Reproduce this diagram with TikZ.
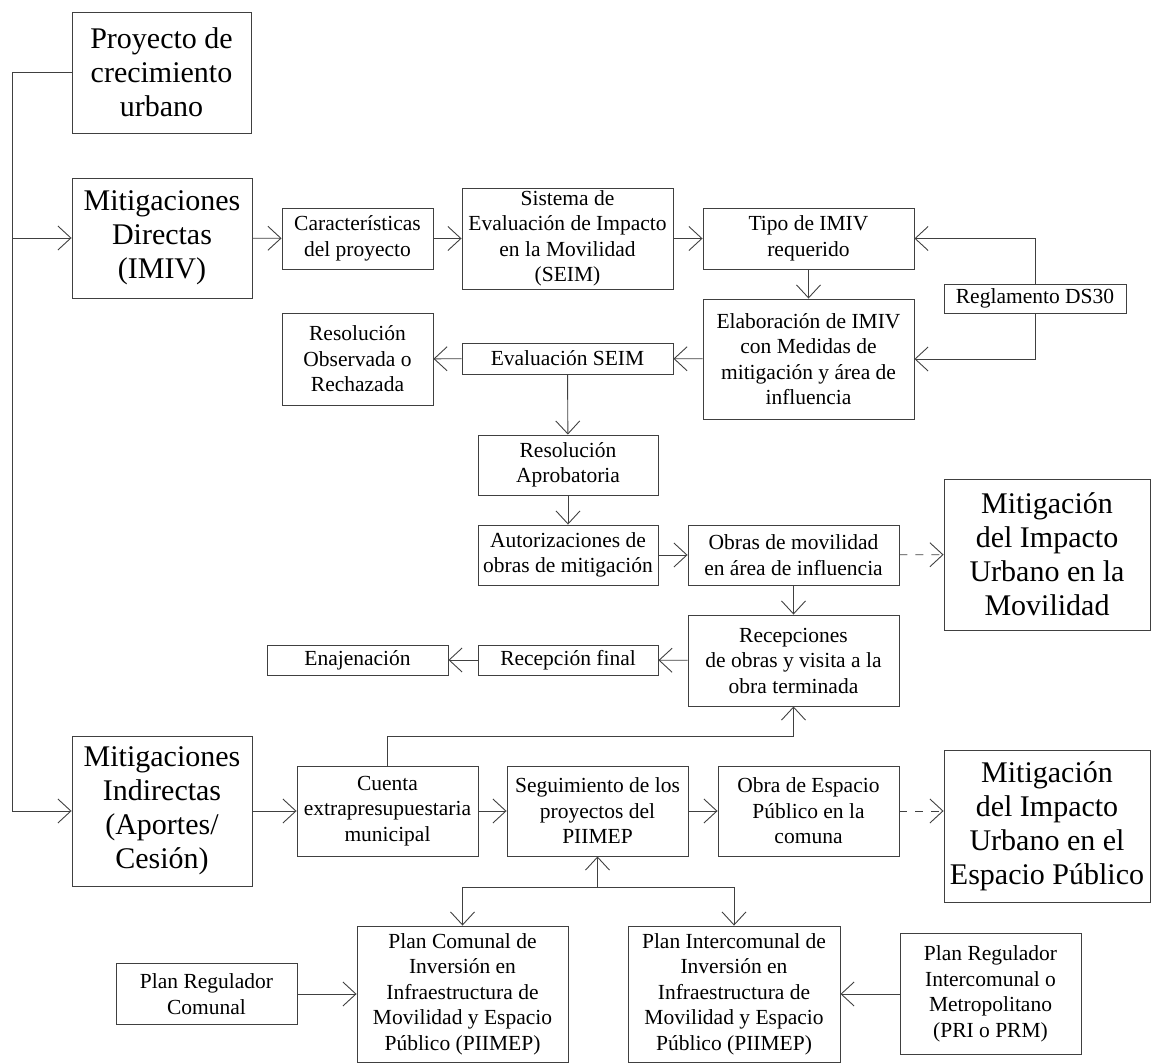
\documentclass[tikz,border=0pt]{standalone}
\usepackage{fontspec}
\setmainfont{Liberation Serif}
\usetikzlibrary{arrows.meta}

\begin{document}
\begin{tikzpicture}[x=1pt,y=-1pt,->,>={Straight Barb[length=13pt,width=24pt]},
  line width=0.9pt,color=black!75,
  box/.style={draw,rectangle,align=center,inner sep=0pt,text=black,
    font=\fontsize{21.5}{25.5}\selectfont},
  big box/.style={box,font=\fontsize{30}{34}\selectfont},
  dash link/.style={dash pattern=on 8pt off 8pt}]

  \useasboundingbox (0,0) rectangle (1151,1064);

  \node[big box,minimum width=179,minimum height=121] (1) at (161.5,72.5) {Proyecto de\\crecimiento\\urbano};
  \node[big box,minimum width=180,minimum height=120] (2) at (162,238) {Mitigaciones\\Directas\\(IMIV)};
  \node[box,minimum width=151,minimum height=61] (3) at (357.5,238.5) {Características\\del proyecto};
  \node[box,minimum width=211,minimum height=101] (4) at (567.5,238.5) {Sistema de\\Evaluación de Impacto\\en la Movilidad\\(SEIM)};
  \node[box,minimum width=211,minimum height=61] (5) at (808.5,238.5) {Tipo de IMIV\\requerido};
  \node[box,minimum width=182,minimum height=29] (6) at (1035,298.5) {Reglamento DS30};
  \node[box,minimum width=211,minimum height=120] (7) at (808.5,359) {Elaboración de IMIV\\con Medidas de\\mitigación y área de\\influencia};
  \node[box,minimum width=211,minimum height=31] (8) at (567.5,358.5) {Evaluación SEIM};
  \node[box,minimum width=151,minimum height=92] (9) at (357.5,359) {Resolución\\Observada o\\Rechazada};
  \node[box,minimum width=180,minimum height=60] (10) at (568,465) {Resolución\\Aprobatoria};
  \node[box,minimum width=180,minimum height=60] (11) at (568,555) {Autorizaciones de\\obras de mitigación};
  \node[box,minimum width=211,minimum height=60] (12) at (793.5,555) {Obras de movilidad\\en área de influencia};
  \node[big box,minimum width=206,minimum height=151] (13) at (1047,554.5) {Mitigación\\del Impacto\\Urbano en la\\Movilidad};
  \node[box,minimum width=211,minimum height=91] (14) at (793.5,660.5) {Recepciones\\de obras y visita a la\\obra terminada};
  \node[box,minimum width=180,minimum height=30] (15) at (568,660) {Recepción final};
  \node[box,minimum width=181,minimum height=30] (16) at (357.5,660) {Enajenación};
  \node[big box,minimum width=180,minimum height=150] (17) at (162,811) {Mitigaciones\\Indirectas\\(Aportes/\\Cesión)};
  \node[box,minimum width=181,minimum height=90] (18) at (387.5,811) {Cuenta\\extrapresupuestaria\\municipal};
  \node[box,minimum width=181,minimum height=90] (19) at (597.5,811) {Seguimiento de los\\proyectos del\\PIIMEP};
  \node[box,minimum width=181,minimum height=90] (20) at (808.5,811) {Obra de Espacio\\Público en la\\comuna};
  \node[big box,minimum width=206,minimum height=152] (21) at (1047,826) {Mitigación\\del Impacto\\Urbano en el\\Espacio Público};
  \node[box,minimum width=181,minimum height=61] (22) at (206.5,994) {Plan Regulador\\Comunal};
  \node[box,minimum width=211,minimum height=136] (23) at (462.5,994) {Plan Comunal de\\Inversión en\\Infraestructura de\\Movilidad y Espacio\\Público (PIIMEP)};
  \node[box,minimum width=212,minimum height=136] (24) at (734,994) {Plan Intercomunal de\\Inversión en\\Infraestructura de\\Movilidad y Espacio\\Público (PIIMEP)};
  \node[box,minimum width=181,minimum height=121] (25) at (990.5,994) {Plan Regulador\\Intercomunal o\\Metropolitano\\(PRI o PRM)};

  \coordinate (c1) at (12,0);
  \coordinate (c2) at (0,736);
  \coordinate (c3) at (0,887);

  \path (2) edge (3)
    (3) edge (4)
    (4) edge (5)
    (5) edge (7)
    (7) edge (8)
    (8) edge (9)
        edge (10)
    (10) edge (11)
    (11) edge (12)
    (12) edge (14)
         edge [dash link] (13)
    (14) edge (15)
    (15) edge (16)
    (17) edge (18)
    (18) edge (19)
    (19) edge (20)
    (22) edge (23)
    (25) edge (24);

  \draw (1.west) -| (c1 |- 17.west) -- (17.west);
  \draw (c1 |- 2.west) -- (2.west);
  \draw (6.north) |- (5.east);
  \draw (6.south) |- (7.east);
  \draw (18.north) -- (18.north |- c2) -| (14.south);
  \draw[dash link] (20.east) -- (20.east -| 21.west);
  \draw (19.south |- c3) -- (19.south);
  \draw (19.south |- c3) -| (23.north);
  \draw (19.south |- c3) -| (24.north);
\end{tikzpicture}
\end{document}
